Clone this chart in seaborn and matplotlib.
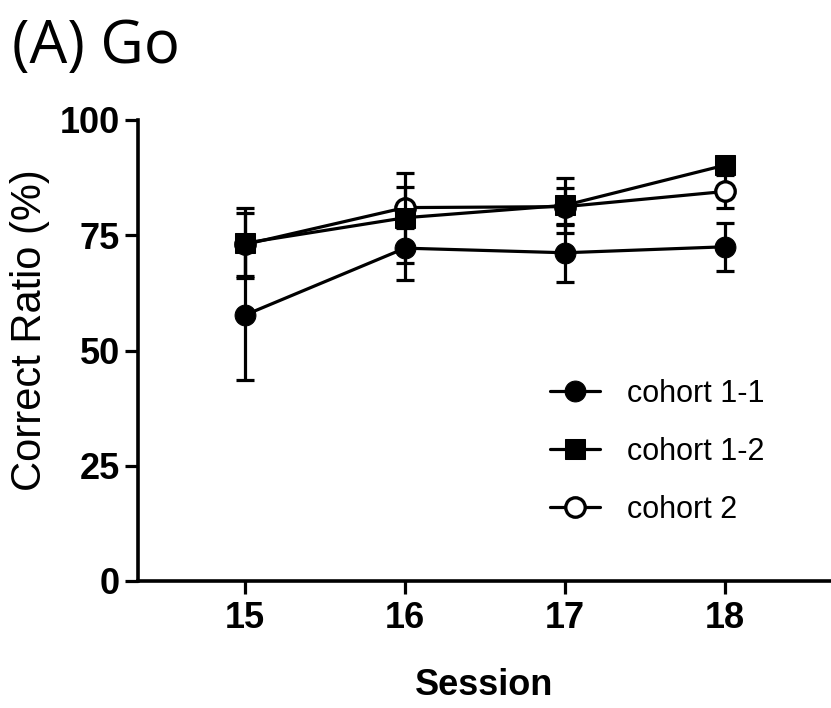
import numpy as np
import pandas as pd
import seaborn as sns
import matplotlib.pyplot as plt

# sessions and mean correct ratio (%) with error (SEM) per cohort
sessions = [15, 16, 17, 18]
cohort_11 = [57.7, 72.2, 71.2, 72.5]
cohort_11_err = [14.1, 7.0, 6.3, 5.2]
cohort_12 = [73.3, 78.8, 81.5, 90.2]
cohort_12_err = [7.6, 9.8, 6.0, 1.5]
cohort_2 = [73.0, 81.0, 81.2, 84.5]
cohort_2_err = [6.8, 4.5, 4.0, 3.5]

y_ticks = [0, 25, 50, 75, 100]

df = pd.DataFrame({
    'Session': sessions * 3,
    'ratio': cohort_11 + cohort_12 + cohort_2,
    'err': cohort_11_err + cohort_12_err + cohort_2_err,
    'cohort': ['cohort 1-1'] * 4 + ['cohort 1-2'] * 4 + ['cohort 2'] * 4,
})

sns.set_style('ticks', {'text.color': 'black', 'axes.labelcolor': 'black',
                        'xtick.color': 'black', 'ytick.color': 'black',
                        'axes.edgecolor': 'black'})
plt.rcParams['font.family'] = ['Liberation Sans', 'DejaVu Sans']

fig = plt.figure(figsize=(8.31, 7.08), dpi=100)
ax = fig.add_axes([138 / 831, 1 - 581 / 708, 693 / 831, 461 / 708])

styles = {
    'cohort 1-1': dict(marker='o', markerfacecolor='black', markersize=15, zorder=3),
    'cohort 2': dict(marker='o', markerfacecolor='white', markersize=14, markeredgewidth=2.4, zorder=4),
    'cohort 1-2': dict(marker='s', markerfacecolor='black', markersize=14, zorder=5),
}

for name, kw in styles.items():
    sub = df[df['cohort'] == name]
    ax.errorbar(sub['Session'], sub['ratio'], yerr=sub['err'], fmt='none',
                ecolor='black', elinewidth=2.3, capsize=6.5, capthick=2.3,
                zorder=kw['zorder'] - 0.5)
    sns.lineplot(data=sub, x='Session', y='ratio', color='black', linewidth=2.3,
                 markeredgecolor='black', label=name, ax=ax, **kw)

ax.set_xlim(14.331, 18.662)
ax.set_ylim(0, 100)
ax.set_xticks(sessions)
ax.set_yticks(y_ticks)
ax.tick_params(axis='both', width=2.3, length=9.5, labelsize=26, color='black',
               labelcolor='black')
ax.tick_params(axis='y', pad=3.5)
ax.tick_params(axis='x', pad=5)
for lab in ax.get_xticklabels() + ax.get_yticklabels():
    lab.set_fontweight('bold')
sns.despine(ax=ax)
for side in ['left', 'bottom']:
    ax.spines[side].set_linewidth(2.6)
    ax.spines[side].set_color('black')

ax.set_ylabel('Correct Ratio (%)', fontsize=30, color='black')
ax.yaxis.set_label_coords(-0.127, 0.544)
ax.set_xlabel('Session', fontsize=26, fontweight='bold', color='black')
ax.xaxis.set_label_coords(0.5, -0.189)

handles, labels = ax.get_legend_handles_labels()
order = [labels.index(l) for l in ['cohort 1-1', 'cohort 1-2', 'cohort 2']]
leg = ax.legend([handles[i] for i in order], [labels[i] for i in order],
                loc='upper left', bbox_to_anchor=(550 / 831, 1 - 379 / 708),
                bbox_transform=fig.transFigure, frameon=False, fontsize=22,
                handlelength=1.63, handletextpad=0.9, labelspacing=0.91,
                borderpad=0, borderaxespad=0)
for t in leg.get_texts():
    t.set_color('black')

fig.text(12 / 831, 1 - 63 / 708, '(A) Go', ha='left', va='baseline',
         fontsize=43, family='Open Sans', color='black')

fig.savefig('out.png', dpi=100)
